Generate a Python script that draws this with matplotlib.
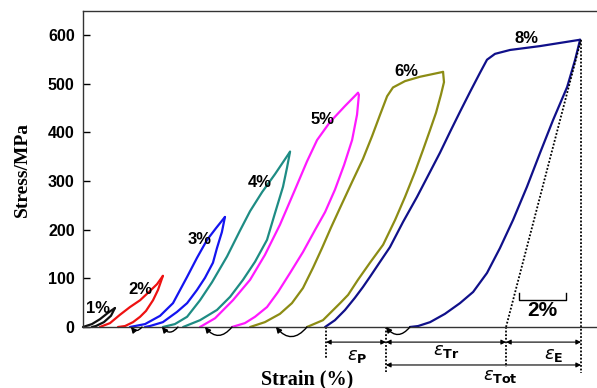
import numpy as np, matplotlib
matplotlib.use('Agg')
import matplotlib.pyplot as plt

# cyclic tensile loops: strain (%) and stress (MPa); loading branch then unloading branch
LEVELS = ['1%', '2%', '3%', '4%', '5%', '6%', '8%']
LOAD_E = [
    [0, 0.38, 0.72, 1.06, 1.36],
    [0.72, 1.15, 1.57, 2.00, 2.43, 2.85, 3.15, 3.40],
    [2.00, 2.64, 3.28, 3.83, 4.43, 4.85, 5.28, 5.66, 6.04],
    [3.40, 3.91, 4.43, 4.98, 5.49, 6.13, 6.68, 7.11, 7.62, 8.17, 8.81],
    [4.98, 5.62, 6.38, 7.11, 7.74, 8.38, 9.02, 9.53, 9.96, 10.51, 11.15, 11.70],
    [7.11, 7.74, 8.38, 8.89, 9.36, 9.79, 10.17, 10.55, 10.94, 11.45, 11.91, 12.30,
     12.64, 12.94, 13.19, 13.70, 14.34, 15.32],
    [10.30, 10.72, 11.15, 11.57, 11.91, 12.21, 12.64, 13.06, 13.62, 14.21, 14.77,
     15.19, 15.62, 16.04, 16.47, 16.89, 17.19, 17.53, 18.17, 19.45, 21.15],
]
LOAD_S = [
    [0, 6, 16, 29, 39],
    [0, 8, 25, 41, 55, 74, 88, 105],
    [0, 6, 23, 49, 103, 142, 179, 203, 226],
    [0, 6, 21, 55, 92, 145, 198, 238, 277, 314, 360],
    [0, 18, 55, 97, 148, 210, 282, 340, 384, 421, 454, 481],
    [0, 10, 27, 49, 80, 122, 162, 204, 245, 298, 345, 392, 436, 474, 492, 505, 514, 524],
    [0, 14, 35, 60, 82, 103, 134, 164, 216, 267, 319, 358, 401, 442, 483, 522, 549,
     561, 569, 577, 590],
]
UNLOAD_E = [
    [1.36, 1.19, 0.89, 0.55, 0.38],
    [3.40, 3.19, 2.98, 2.68, 2.43, 2.13, 1.79, 1.49],
    [6.04, 5.91, 5.70, 5.53, 5.19, 4.85, 4.43, 4.00, 3.40, 2.85, 2.64],
    [8.81, 8.68, 8.51, 8.17, 7.83, 7.32, 6.81, 6.26, 5.70, 4.98, 4.26],
    [11.70, 11.74, 11.66, 11.45, 11.11, 10.72, 10.30, 9.87, 9.36, 8.81, 8.30, 7.83,
     7.32, 6.89, 6.34],
    [15.32, 15.36, 15.23, 15.02, 14.77, 14.47, 14.13, 13.70, 13.28, 12.77, 12.21,
     11.70, 11.28, 10.94, 10.21, 9.53],
    [21.15, 20.94, 20.60, 20.00, 19.45, 18.89, 18.30, 17.74, 17.19, 16.60, 16.04,
     15.40, 14.77, 14.26, 13.91],
]
UNLOAD_S = [
    [39, 23, 10, 2, 0],
    [105, 76, 55, 33, 21, 10, 2, 0],
    [226, 195, 162, 132, 101, 76, 49, 31, 10, 2, 0],
    [360, 327, 288, 234, 179, 134, 97, 62, 35, 14, 0],
    [481, 477, 436, 384, 333, 282, 236, 199, 154, 111, 72, 41, 21, 8, 0],
    [524, 503, 477, 440, 405, 364, 319, 267, 220, 169, 132, 97, 66, 49, 14, 0],
    [590, 549, 493, 425, 358, 288, 220, 162, 111, 72, 49, 27, 10, 2, 0],
]
# small recovery arrows under the axis (from -> to, strain %)
HOOK_FROM = [2.51, 4.04, 6.34, 9.53, 13.91]
HOOK_TO = [2.04, 3.36, 5.19, 8.21, 12.89]
# 8% cycle strain markers
E_START, E_RES, E_EL, E_PEAK = 10.34, 12.89, 18.00, 21.19
S_PEAK = 590
YTICKS = [0, 100, 200, 300, 400, 500, 600]

COLORS = ['#111111', '#ee1111', '#1414f0', '#1e8c84', '#ff1aff', '#8c8c14', '#10108a']
LABEL_XY = [(0.64, 39), (2.43, 78), (4.98, 179), (7.53, 296), (10.21, 427),
            (13.74, 524), (18.85, 592)]

SANS = 'Liberation Sans'
SERIF = 'Liberation Serif'
plt.rcParams['mathtext.fontset'] = 'dejavusans'

fig = plt.figure(figsize=(5.97, 3.88), dpi=100)
ax = fig.add_axes([0.139, 0.1572, 0.861, 0.8144])
ax.set_xlim(0, 21.87)
ax.set_ylim(0, 649)

for i in range(len(LEVELS)):
    ax.plot(LOAD_E[i], LOAD_S[i], color=COLORS[i], lw=1.6, solid_joinstyle='round',
            solid_capstyle='round', clip_on=False)
    ax.plot(UNLOAD_E[i], UNLOAD_S[i], color=COLORS[i], lw=1.6, solid_joinstyle='round',
            solid_capstyle='round', clip_on=False)
    ax.text(*LABEL_XY[i], LEVELS[i], ha='center', va='center', fontsize=12,
            fontweight='bold', family=SANS)

for a, b in zip(HOOK_FROM, HOOK_TO):
    ax.annotate('', xy=(b, 0), xytext=(a, 0), annotation_clip=False,
                arrowprops=dict(arrowstyle='-|>', color='black', lw=1.0, mutation_scale=8,
                                shrinkA=0, shrinkB=0,
                                connectionstyle='arc3,rad=-0.6'))

# elastic recovery line and vertical dotted guides
dot = dict(color='black', lw=1.3, ls=(0, (1, 1)), clip_on=False)
ax.plot([E_EL, E_PEAK], [0, S_PEAK], **dot)
ax.plot([E_PEAK, E_PEAK], [S_PEAK, -95], **dot)
ax.plot([E_START, E_START], [0, -64], **dot)
ax.plot([E_RES, E_RES], [0, -92], **dot)
ax.plot([E_EL, E_EL], [0, -82], **dot)

def dim(x0, x1, y):
    ax.annotate('', xy=(x0, y), xytext=(x1, y), annotation_clip=False,
                arrowprops=dict(arrowstyle='<|-|>', color='black', lw=0.8,
                                mutation_scale=7, shrinkA=0, shrinkB=0))

dim(E_START, E_RES, -31)
dim(E_RES, E_EL, -31)
dim(E_EL, E_PEAK, -31)
dim(E_RES, E_PEAK, -78)
etxt = dict(ha='center', va='center', fontsize=13, clip_on=False)
ax.text((E_START + E_RES) / 2 + 0.05, -60, r'$\varepsilon_{\mathbf{P}}$', **etxt)
ax.text((E_RES + E_EL) / 2, -50, r'$\varepsilon_{\mathbf{Tr}}$', **etxt)
ax.text((E_EL + E_PEAK) / 2 + 0.45, -58, r'$\varepsilon_{\mathbf{E}}$', **etxt)
ax.text((E_RES + E_PEAK) / 2 + 0.7, -101, r'$\varepsilon_{\mathbf{Tot}}$', **etxt)

# 2 % scale bar
ax.plot([18.55, 18.55, 20.55, 20.55], [70, 55, 55, 70], color='black', lw=1.0)
ax.text(19.53, 33, '2%', ha='center', va='center', fontsize=15, fontweight='bold',
        family=SANS)

ax.set_xticks([])
ax.set_yticks(YTICKS)
ax.tick_params(axis='y', direction='in', length=5, width=1, pad=6, labelsize=11.5)
for lab in ax.get_yticklabels():
    lab.set_fontweight('bold'); lab.set_family(SANS)
for s in ('left', 'top', 'bottom'):
    ax.spines[s].set_color('#333333'); ax.spines[s].set_linewidth(1.0)
ax.spines['right'].set_visible(False)

ax.set_ylabel('Stress/MPa', family=SERIF, fontweight='bold', fontsize=14)
ax.yaxis.set_label_coords(-0.102, 0.5)
fig.text(307 / 597, 1 - 379 / 388, 'Strain (%)', family=SERIF, fontweight='bold',
         fontsize=14.5, ha='center', va='center')

fig.savefig('out.png', dpi=100)
